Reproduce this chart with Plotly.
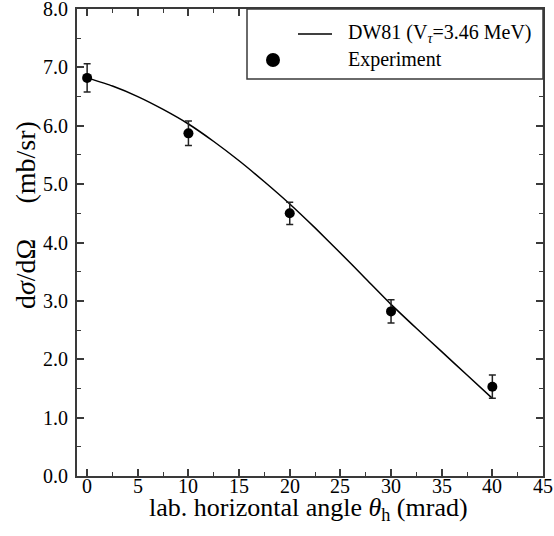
import plotly.graph_objects as go

# Experimental data
exp_angle = [0, 10, 20, 30, 40]
exp_xsec = [6.82, 5.87, 4.50, 2.82, 1.53]
exp_err = [0.24, 0.21, 0.19, 0.20, 0.20]

# DW81 calculation
calc_angle = [0, 2.5, 5, 7.5, 10, 12.5, 15, 17.5, 20, 22.5, 25, 27.5, 30, 32.5, 35, 37.5, 40]
calc_xsec = [6.82, 6.68, 6.50, 6.28, 6.03, 5.73, 5.40, 5.04, 4.66, 4.25, 3.82, 3.38, 2.94, 2.53, 2.13, 1.73, 1.33]

x_ticks = [0, 5, 10, 15, 20, 25, 30, 35, 40, 45]
y_ticks = [0, 1, 2, 3, 4, 5, 6, 7, 8]

FONT = "Liberation Serif"
AX = "#3a3a3a"

fig = go.Figure()
fig.add_trace(go.Scatter(
    x=calc_angle, y=calc_xsec, mode="lines",
    line=dict(color="black", width=1.5, shape="spline", smoothing=0.5),
    showlegend=False, hoverinfo="skip"))
fig.add_trace(go.Scatter(
    x=exp_angle, y=exp_xsec, mode="markers",
    marker=dict(color="black", size=10),
    error_y=dict(type="data", array=exp_err, color="#222", thickness=1.5, width=3.5),
    showlegend=False))

axis_common = dict(
    showline=True, linecolor=AX, linewidth=2, mirror="allticks",
    ticks="inside", ticklen=7, tickwidth=1.5, tickcolor=AX,
    showgrid=False, zeroline=False, automargin=False, ticklabeloverflow="allow",
    tickfont=dict(family=FONT, size=20, color="black"),
)

fig.update_xaxes(range=[-1, 45], tickvals=x_ticks, showticklabels=False,
                 minor=dict(dtick=2.5, ticks="inside", ticklen=4, tickcolor=AX, tickwidth=1.2),
                 **axis_common)
fig.update_yaxes(range=[0, 8], tickvals=y_ticks, tickformat=".1f", ticklabelstandoff=3,
                 minor=dict(dtick=0.5, ticks="inside", ticklen=4, tickcolor=AX, tickwidth=1.2),
                 **axis_common)

L, R, T, B = 77, 11, 9, 60
W, H = 554, 536
pw, ph = W - L - R, H - T - B

def px(x):
    return (x - L) / pw

def py(y):
    return (H - B - y) / ph

annotations = [
    dict(text=str(v), xref="x", yref="paper", x=v, y=py(486), xanchor="center", yanchor="middle",
         showarrow=False, font=dict(family=FONT, size=20, color="black"))
    for v in x_ticks
]
annotations += [
    dict(text="lab. horizontal angle <i>θ</i><sub>h</sub> (mrad)", xref="paper", yref="paper",
         x=px(308.5), y=py(509), xanchor="center", yanchor="middle", showarrow=False,
         font=dict(family=FONT, size=26, color="black")),
    dict(text="d<i>σ</i>/dΩ" + "\u00a0" * 5 + "(mb/sr)", xref="paper", yref="paper",
         x=px(25), y=py(215), xanchor="center", yanchor="middle", textangle=-90, showarrow=False,
         font=dict(family=FONT, size=28, color="black")),
    dict(text="DW81 (V<sub><i>τ</i></sub>=3.46 MeV)", xref="paper", yref="paper",
         x=px(346), y=py(34), xanchor="left", yanchor="middle", showarrow=False,
         font=dict(family=FONT, size=20, color="black")),
    dict(text="Experiment", xref="paper", yref="paper",
         x=px(346), y=py(59), xanchor="left", yanchor="middle", showarrow=False,
         font=dict(family=FONT, size=20, color="black")),
]

shapes = [
    dict(type="rect", xref="paper", yref="paper", x0=px(247), x1=1, y0=py(79), y1=1,
         line=dict(color=AX, width=1.5), fillcolor="white", layer="above"),
    dict(type="line", xref="paper", yref="paper", x0=px(298), x1=px(332), y0=py(34), y1=py(34),
         line=dict(color="black", width=1.5)),
    dict(type="circle", xref="paper", yref="paper", xsizemode="pixel", ysizemode="pixel",
         xanchor=px(273), yanchor=py(60), x0=-7, x1=7, y0=-7, y1=7,
         fillcolor="black", line=dict(color="black", width=0)),
]

fig.update_layout(
    width=W, height=H, margin=dict(l=L, r=R, t=T, b=B),
    paper_bgcolor="white", plot_bgcolor="white", font=dict(family=FONT, color="black"),
    annotations=annotations, shapes=shapes, showlegend=False,
)

fig.write_html("out.html")
